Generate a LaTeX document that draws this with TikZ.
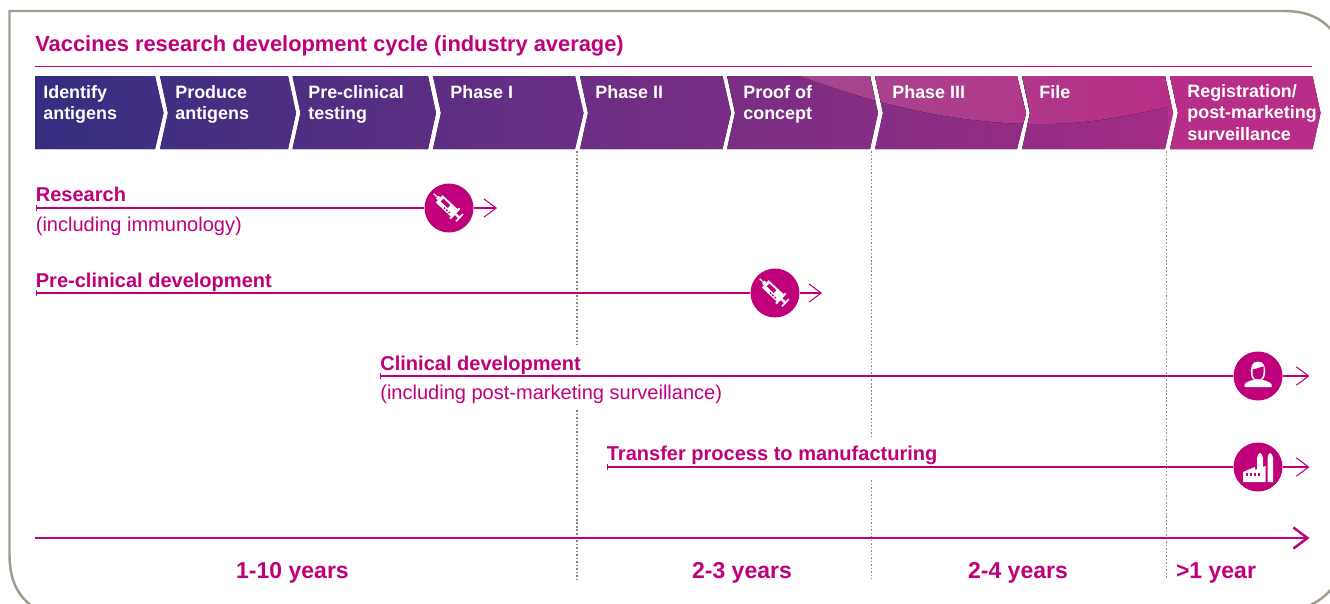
\documentclass[tikz,border=0pt]{standalone}
\usepackage{fontspec}
\setmainfont{Liberation Sans}
\usetikzlibrary{arrows.meta}

\definecolor{vacpink}{HTML}{C0007A}
\definecolor{vacrule}{HTML}{D6007F}
\definecolor{vacframe}{HTML}{A39B8E}
\definecolor{vacdots}{HTML}{8F8576}
\definecolor{vacblue}{HTML}{342E80}
\definecolor{vacmid}{HTML}{702E84}
\definecolor{vacplum}{HTML}{9C2C85}
\definecolor{vacend}{HTML}{B82D87}
\definecolor{vacswoosh}{HTML}{A4488F}

\newcommand{\pxfont}[1]{\fontsize{#1}{#1}\selectfont}

\tikzset{
    stagelabel/.style={anchor=north west, inner sep=0pt, align=left, text=white, font=\pxfont{10.2}\bfseries},
    headlabel/.style={anchor=base west, inner sep=0pt, text=vacpink, font=\pxfont{11.4}\bfseries},
    notelabel/.style={anchor=base west, inner sep=0pt, text=vacpink, font=\pxfont{11.4}},
    yearlabel/.style={anchor=base, inner sep=0pt, text=vacpink, font=\pxfont{13.1}\bfseries},
    iconnode/.style={circle, fill=vacpink, inner sep=0pt, minimum size=0.98cm},
    spanline/.style={vacpink, line width=0.6pt},
    spanstart/.style={spanline, {Bar[width=3.5pt]}-},
    spanend/.style={spanline, -{Straight Barb[length=7pt,width=10.5pt]}},
    dotline/.style={vacdots, line width=1pt, dash pattern=on 0.9pt off 1.1pt}
}

\newcommand{\syringeicon}[1]{
    \begin{scope}[shift={(#1.center)}, rotate=-43]
        \fill[white] (-13.4,-5) rectangle (8,5);
        \fill[vacpink] (-10.5,-3) rectangle (-1,0.8);
        \fill[vacpink] (-4,2.4) rectangle (-2.4,3.8);
        \fill[vacpink] (-0.8,2.4) rectangle (0.8,3.8);
        \fill[vacpink] (2.4,2.4) rectangle (4,3.8);
        \fill[white] (7,-7) rectangle (9,7);
        \fill[white] (9,-1.2) rectangle (15,1.2);
        \fill[white] (13.4,-5) rectangle (15,5);
        \fill[white] (-16,-1.8) rectangle (-13.4,1.8);
        \fill[white] (-21,-0.6) rectangle (-16,0.6);
    \end{scope}
}
\newcommand{\personicon}[1]{
    \begin{scope}[shift={(#1.center)}]
        \fill[white] (-13.5,11) -- (-13.5,8.5) .. controls (-12,5.5) and (-7,5) .. (-4,3.5)
            -- (4,3.5) .. controls (7,5) and (12,5.5) .. (13.7,8.5) -- (13.7,11) -- cycle;
        \fill[white] (-6.8,-1) .. controls (-8,-9) and (-6,-14.5) .. (0,-14.5)
            .. controls (6,-14.5) and (8,-9) .. (6.8,-1) .. controls (6.5,2) and (4,5) .. (0,5)
            .. controls (-4,5) and (-6.5,2) .. (-6.8,-1) -- cycle;
        \fill[vacpink] (-5.5,-6.5) .. controls (-2,-7) and (2,-9) .. (5.5,-9.5)
            .. controls (6,-4) and (5.5,0) .. (3,3.2) -- (-3,3.2) .. controls (-5.5,0) and (-6,-3) .. (-5.5,-6.5) -- cycle;
    \end{scope}
}
\newcommand{\factoryicon}[1]{
    \begin{scope}[shift={(#1.center)}]
        \fill[white] (-15,15) -- (-15,5) -- (-3,0) -- (-3,3) -- (7.5,-1) -- (7.5,15) -- cycle;
        \fill[white] (-1,3) -- (-1,-9) .. controls (-1,-11) and (0.8,-14) .. (2,-14)
            .. controls (3.2,-14) and (5,-11) .. (5,-9) -- (5,3) -- cycle;
        \fill[white] (9.5,15) -- (9.5,-9) .. controls (9.5,-11) and (11,-14) .. (12.2,-14)
            .. controls (13.5,-14) and (15,-11) .. (15,-9) -- (15,15) -- cycle;
        \foreach \winx in {-12.5,-8.5,-4.5,-0.5}
            \fill[vacpink] (\winx,6) rectangle ++(2.7,3.2);
    \end{scope}
}

\begin{document}
\begin{tikzpicture}[x=0.02cm, y=-0.02cm]
    \useasboundingbox (0,0) rectangle (1330,603);
    \clip (0,0) rectangle (1330,603);

    % frame
    \draw[vacframe, line width=1.4pt] (1345,55) .. controls (1335,25) and (1315,11) .. (1285,11)
        -- (9.5,11) -- (9.5,555) .. controls (9.5,580) and (18,596) .. (32,606);
    \draw[vacframe, line width=1.4pt] (1308,606) .. controls (1318,602) and (1326,596) .. (1334,586);

    % title
    \node[anchor=base west, inner sep=0pt, text=vacpink, font=\pxfont{12.45}\bfseries] (title) at (35,51)
        {Vaccines research development cycle (industry average)};
    \coordinate (ruleleft) at (35,66.5);
    \coordinate (ruleright) at (1312,66.5);
    \draw[vacrule, line width=0.7pt] (ruleleft) -- (ruleright);

    % stages
    \begin{scope}
        \clip (35,76) -- (155,76) -- (163.5,113) -- (155,149) -- (35,149) -- cycle
            (160,76) -- (288,76) -- (296,113) -- (288,149) -- (160,149) -- (168,113) -- cycle
            (292.5,76) -- (428,76) -- (436,113) -- (428,149) -- (292.5,149) -- (300.5,113) -- cycle
            (433,76) -- (575,76) -- (583.5,113) -- (575,149) -- (433,149) -- (441,113) -- cycle
            (580,76) -- (722.5,76) -- (731,113) -- (722.5,149) -- (580,149) -- (588,113) -- cycle
            (727,76) -- (870,76) -- (878,113) -- (870,149) -- (727,149) -- (735,113) -- cycle
            (875,76) -- (1017,76) -- (1026,113) -- (1017,149) -- (875,149) -- (883,113) -- cycle
            (1022,76) -- (1165,76) -- (1173,113) -- (1165,149) -- (1022,149) -- (1030,113) -- cycle
            (1170,76) -- (1312.5,76) -- (1320.5,113) -- (1312.5,149) -- (1170,149) -- (1178,113) -- cycle;
        \fill[left color=vacblue, right color=vacmid] (35,70) rectangle (640,155);
        \fill[left color=vacmid, right color=vacplum] (640,70) rectangle (1100,155);
        \fill[left color=vacplum, right color=vacend] (1100,70) rectangle (1325,155);
        \fill[left color=vacswoosh, right color=vacend]
            (800,70) -- (800,76) .. controls (870,102) and (950,124) .. (1040,124)
            .. controls (1090,124) and (1130,116) .. (1180,104) -- (1180,70) -- cycle;
        \fill[vacend] (1168,70) rectangle (1325,155);
    \end{scope}

    \node[stagelabel] (identify) at (43,85) {Identify\\[2pt]antigens};
    \node[stagelabel] (produce) at (175,85) {Produce\\[2pt]antigens};
    \node[stagelabel] (preclin) at (308,85) {Pre-clinical\\[2pt]testing};
    \node[stagelabel] (phaseone) at (450,85) {Phase I};
    \node[stagelabel] (phasetwo) at (595,85) {Phase II};
    \node[stagelabel] (proof) at (743,85) {Proof of\\[2pt]concept};
    \node[stagelabel] (phasethree) at (892,85) {Phase III};
    \node[stagelabel] (file) at (1039,85) {File};
    \node[stagelabel] (registration) at (1187,84) {Registration/\\[2pt]post-marketing\\[2pt]surveillance};

    % dotted dividers
    \draw[dotline] (577,151) -- (577,345);
    \draw[dotline] (577,410) -- (577,579);
    \draw[dotline] (871.5,151) -- (871.5,436);
    \draw[dotline] (871.5,480) -- (871.5,579);
    \draw[dotline] (1166.5,151) -- (1166.5,579);

    % research
    \coordinate (researchstart) at (35.5,208);
    \coordinate (researchend) at (497,208);
    \node[iconnode] (researchicon) at (449,208) {};
    \draw[spanstart] (researchstart) -- (researchicon);
    \draw[spanend] (researchicon) -- (researchend);
    \syringeicon{researchicon}
    \node[headlabel] (researchlabel) at (35.5,201) {Research};
    \node[notelabel] (researchnote) at (35.5,231) {(including immunology)};

    % pre-clinical
    \coordinate (prestart) at (35.5,293);
    \coordinate (preend) at (822,293);
    \node[iconnode] (preicon) at (775,293) {};
    \draw[spanstart] (prestart) -- (preicon);
    \draw[spanend] (preicon) -- (preend);
    \syringeicon{preicon}
    \node[headlabel] (prelabel) at (35.5,287) {Pre-clinical development};

    % clinical
    \coordinate (clinstart) at (380,376);
    \coordinate (clinend) at (1309.5,376);
    \node[iconnode] (clinicon) at (1258,376) {};
    \draw[spanstart] (clinstart) -- (clinicon);
    \draw[spanend] (clinicon) -- (clinend);
    \personicon{clinicon}
    \node[headlabel] (clinlabel) at (380,370) {Clinical development};
    \node[notelabel] (clinnote) at (380,399) {(including post-marketing surveillance)};

    % transfer
    \coordinate (transstart) at (606.5,467);
    \coordinate (transend) at (1309.5,467);
    \node[iconnode] (transicon) at (1258,467) {};
    \draw[spanstart] (transstart) -- (transicon);
    \draw[spanend] (transicon) -- (transend);
    \factoryicon{transicon}
    \node[headlabel] (translabel) at (606.5,460) {Transfer process to manufacturing};

    % time axis
    \coordinate (axisstart) at (35,538);
    \coordinate (axisend) at (1309.5,538);
    \draw[vacpink, line width=1.4pt, -{Straight Barb[length=8pt,width=12pt]}] (axisstart) -- (axisend);

    \node[yearlabel] (yearsa) at (292.5,578) {1-10 years};
    \node[yearlabel] (yearsb) at (742,578) {2-3 years};
    \node[yearlabel] (yearsc) at (1018,578) {2-4 years};
    \node[yearlabel] (yearsd) at (1216,578) {>1 year};
\end{tikzpicture}
\end{document}
